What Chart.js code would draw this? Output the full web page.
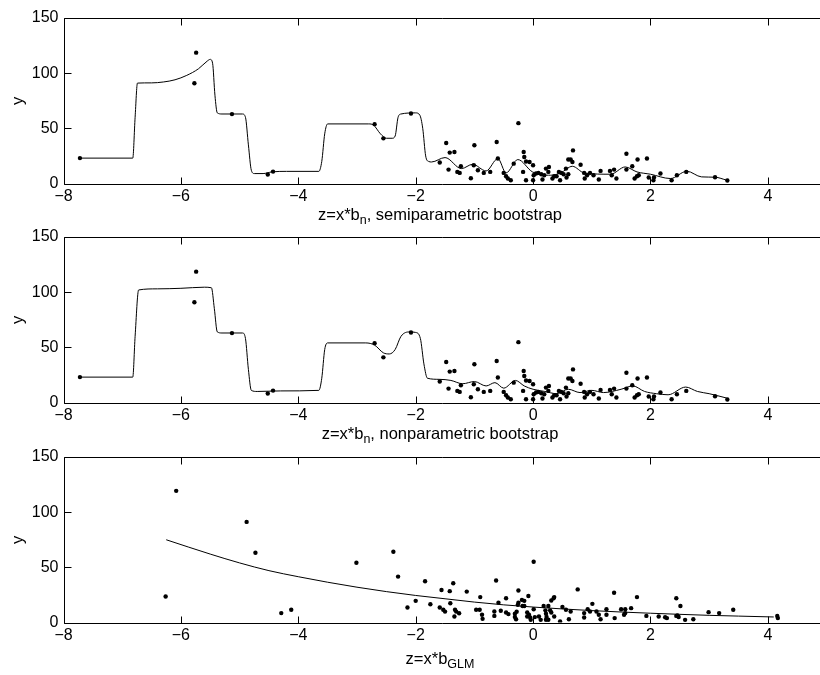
<!DOCTYPE html>
<html>
<head>
<meta charset="utf-8">
<script src="https://cdn.jsdelivr.net/npm/chart.js@4/dist/chart.umd.min.js"></script>
<style>
  body { margin: 0; background: #fff; }
  canvas { position: absolute; left: 0; }
</style>
</head>
<body>
<canvas id="c1" style="top:0px" width="820" height="240"></canvas>
<canvas id="c2" style="top:219px" width="820" height="240"></canvas>
<canvas id="c3" style="top:439px" width="820" height="236"></canvas>
<script>
// tick labels
const xTicks = [-8, -6, -4, -2, 0, 2, 4]
const yTicks = [0, 50, 100, 150]

// observations, z = x*b_n (same points in panels 1 and 2)
const zN = [-7.72, -5.74, -5.77, -5.13, -4.52, -4.43, -2.70, -2.55, -2.08,
  -1.59, -1.48, -1.42, -1.34, -1.44, -1.29, -1.23, -1.25, -1.06, -1.00, -1.01, -0.94, -0.84, -0.73,
  -0.62, -0.60, -0.50, -0.46, -0.43, -0.38, -0.33, -0.25, -0.16, -0.15, -0.12, -0.17, -0.12, -0.06,
  0.00, 0.01, 0.00, 0.05, 0.09, 0.14, 0.16, 0.19, 0.22, 0.26, 0.27, 0.33, 0.36, 0.40, 0.44, 0.48,
  0.46, 0.52, 0.56, 0.57, 0.60, 0.64, 0.68, 0.67, 0.60, 0.81, 0.87, 0.88, 0.92, 0.97, 1.03, 1.12,
  1.15, 1.31, 1.34, 1.38, 1.42, 1.59, 1.59, 1.69, 1.73, 1.77, 1.80, 1.78, 1.94, 1.97, 2.05, 2.06,
  2.17, 2.36, 2.45, 2.61, 3.10, 3.31]
const yN = [23, 118.6, 90.9, 62.9, 8.1, 10.8, 53.8, 40.9, 63.5,
  19, 36.7, 28, 28.5, 12.6, 10.5, 15.6, 9.6, 4.8, 34.6, 16.5, 12, 9.6, 10.5,
  37.6, 22.6, 9.6, 6.6, 4.5, 3, 18, 54.7, 28.5, 24, 20, 10.5, 3, 19.5,
  16.5, 7.5, 3, 9, 9.6, 8.4, 3.6, 7.5, 13.5, 10.5, 15, 4.5, 6.6, 6.6, 10.5, 9.6,
  3, 8.4, 13.5, 5.4, 21.7, 21.7, 30, 19.5, 8.4, 17, 9.6, 4.5, 7.5, 9.6, 7.5, 3.6,
  11.4, 11.4, 7.5, 12.6, 4.5, 27, 12.6, 15.6, 4.5, 6.6, 7.5, 21.7, 22.6, 5.4, 3, 5.4,
  9, 3, 7.5, 10.5, 5.7, 2.7]

// semiparametric bootstrap fit
const zSemi = [-7.72, -6.82, -6.78, -6.74, -6.5, -6.3, -6.1, -5.9, -5.7, -5.55, -5.5, -5.46, -5.42, -5.38,
  -5.3, -4.95, -4.9, -4.85, -4.8, -4.75, -4.6, -4.45, -4.2, -3.65, -3.6, -3.55, -3.5, -2.8, -2.72, -2.6,
  -2.5, -2.4, -2.35, -2.3, -2.25, -2.0, -1.93, -1.88, -1.83, -1.78, -1.73, -1.5, -1.22, -1.03, -0.8,
  -0.6, -0.46, -0.26, -0.01, 0.3, 0.47, 0.67, 0.87, 1.32, 1.57, 1.77, 2.0, 2.34, 2.62, 2.87, 3.10, 3.30]
const ySemi = [23, 23, 60, 91, 91.2, 92, 94, 98, 104, 111, 112.5, 109, 80, 64,
  63, 63, 60, 35, 12, 9, 9, 10.5, 11, 11, 20, 45, 54, 54, 53, 45,
  41, 41, 43, 60, 63, 64, 62, 50, 25, 20, 19.5, 23.5, 13.5, 17.4, 11.4,
  22.6, 9.6, 21.7, 10.5, 7.5, 9.6, 15.6, 9.6, 8.4, 15, 10.5, 8.4, 4.5, 11.1, 6, 5.7, 3]

// nonparametric bootstrap fit
const zNonp = [-7.72, -6.82, -6.78, -6.72, -6.4, -6.0, -5.6, -5.48, -5.43, -5.38, -5.3, -4.95, -4.9, -4.85,
  -4.8, -4.7, -4.3, -3.65, -3.6, -3.55, -3.5, -2.85, -2.7, -2.55, -2.45, -2.35, -2.25, -2.1, -2.0, -1.92,
  -1.86, -1.8, -1.6, -1.4, -1.2, -1.0, -0.8, -0.65, -0.5, -0.3, -0.15, 0, 0.2, 0.4, 0.6, 0.8, 1.0,
  1.2, 1.5, 1.7, 1.9, 2.1, 2.3, 2.6, 2.8, 3.0, 3.3]
const yNonp = [23, 23, 60, 102, 103, 103.5, 104.5, 104, 85, 64, 63, 63, 58, 30,
  11, 10, 10.5, 11, 22, 48, 54, 54, 52, 45, 44, 48, 60, 64, 63.5, 58,
  35, 22, 21, 20, 17, 19, 15, 18, 13, 20, 15, 12, 10, 8, 12, 9, 11,
  9, 12, 15, 10, 8, 7, 14, 10, 8, 4]

// observations, z = x*b_GLM
const zG = [-6.08, -6.26, -4.88, -4.73, -4.29, -4.12, -3.01, -2.38, -2.30, -2.14, -2.0, -1.84, -1.75,
  -1.56, -1.59, -1.53, -1.50, -1.42, -1.36, -1.41, -1.33, -1.34, -1.31, -1.26, -1.13, -0.97, -0.91,
  -0.90, -0.87, -0.86, -0.63, -0.59, -0.66, -0.66, -0.55, -0.46, -0.46, -0.42, -0.31, -0.31, -0.29,
  -0.26, -0.25, -0.25, -0.28, -0.19, -0.15, -0.08, -0.18, -0.15, -0.1, -0.07, -0.1, -0.05, -0.04,
  0.01, 0.01, 0.03, 0.10, 0.13, 0.18, 0.26, 0.21, 0.22, 0.23, 0.22, 0.26, 0.29, 0.31, 0.31, 0.35,
  0.36, 0.36, 0.46, 0.50, 0.56, 0.61, 0.64, 0.76, 0.87, 0.87, 0.93, 0.97, 1.01, 1.08, 1.12, 1.15,
  1.25, 1.25, 1.38, 1.39, 1.50, 1.57, 1.55, 1.57, 1.67, 1.77, 1.93, 2.14, 2.25, 2.28, 2.44, 2.51,
  2.44, 2.48, 2.46, 2.59, 2.73, 2.99, 3.17, 3.41, 4.16, 4.17]
const yG = [119.3, 23.5, 91.2, 63.2, 8.5, 11.5, 54.2, 64.1, 41.6, 13.6, 19.6, 37.4, 16.6,
  29.5, 13.6, 11.5, 9.9, 28.4, 35.6, 17.5, 11.5, 5.4, 9.9, 8.4, 28, 11.5, 11.5,
  23, 7, 3.3, 38, 18, 10, 6, 10.6, 22, 9, 7.6, 7.9, 5, 3,
  16, 18, 29, 9.7, 20.5, 19.6, 24, 15, 15, 9, 7, 5.5, 4.5, 2.5,
  55.1, 12, 4.9, 5.4, 2.4, 15, 15, 11, 8, 5, 2.5, 2.5, 11, 9, 20, 22,
  23, 5.4, 1, 14, 11.5, 3, 10, 30, 8.5, 4.5, 12, 10, 16.9, 10, 7, 3,
  12, 7, 27, 4, 12, 12, 7, 8.5, 13, 23, 6, 5.4, 4.8, 4, 22, 15,
  6, 5, 6.5, 2.4, 3, 9.4, 8.5, 11.5, 6, 4]

// GLM fit
const zFit = [-6.25, -5.5, -5.0, -4.5, -4.0, -3.5, -3.0, -2.5, -2.0, -1.5, -1.0, -0.5, 0, 0.5,
  1.0, 1.5, 2.0, 2.5, 3.0, 3.5, 4.1]
const yFit = [75, 62, 54, 47, 41.5, 36.5, 32, 28, 24.5, 21.5, 18.5, 16, 14, 12.3,
  10.8, 9.5, 8.4, 7.4, 6.5, 5.8, 5]

const FONT = '"Liberation Sans", Arial, Helvetica, sans-serif'

function pts(xs, ys) {
  return xs.map((v, i) => ({x: v, y: ys[i]}))
}

// draws the box, inward ticks and the axis labels
const frame = {
  id: 'frame',
  afterDraw(chart, args, opts) {
    const ctx = chart.ctx
    const a = chart.chartArea
    const xs = chart.scales.x, ys = chart.scales.y
    const L = Math.round(a.left) + 0.5, T = Math.round(a.top) + 0.5, B = Math.round(a.bottom) + 0.5
    ctx.save()
    ctx.strokeStyle = '#000'
    ctx.lineWidth = 1
    ctx.beginPath()
    ctx.moveTo(820, T); ctx.lineTo(L, T); ctx.lineTo(L, B); ctx.lineTo(820, B)
    xTicks.forEach(v => {
      const p = Math.round(xs.getPixelForValue(v)) + 0.5
      ctx.moveTo(p, B); ctx.lineTo(p, B - 7)
      ctx.moveTo(p, T); ctx.lineTo(p, T + 7)
    })
    yTicks.forEach(v => {
      const p = Math.round(ys.getPixelForValue(v)) + 0.5
      ctx.moveTo(L, p); ctx.lineTo(L + 7, p)
    })
    ctx.stroke()

    // x label with subscript
    ctx.fillStyle = '#000'
    ctx.textBaseline = 'alphabetic'
    ctx.textAlign = 'left'
    const big = '16.5px ' + FONT, small = '12.5px ' + FONT
    ctx.font = big
    const w1 = ctx.measureText(opts.main).width
    const w3 = ctx.measureText(opts.rest).width
    ctx.font = small
    const w2 = ctx.measureText(opts.sub).width
    let x0 = 440 - (w1 + w2 + w3) / 2
    const base = a.bottom + opts.gap
    ctx.font = big
    ctx.fillText(opts.main, x0, base)
    ctx.font = small
    ctx.fillText(opts.sub, x0 + w1, base + 4)
    ctx.font = big
    ctx.fillText(opts.rest, x0 + w1 + w2, base)

    // y label
    ctx.translate(18, (a.top + a.bottom) / 2)
    ctx.rotate(-Math.PI / 2)
    ctx.textAlign = 'center'
    ctx.textBaseline = 'middle'
    ctx.fillText('y', 0, 0)
    ctx.restore()
  }
}

function makeChart(id, scatterPts, lineX, lineY, label) {
  const cv = document.getElementById(id)
  const H = cv.height
  return new Chart(cv, {
    type: 'scatter',
    data: {
      datasets: [{
        type: 'line',
        data: pts(lineX, lineY),
        borderColor: '#000',
        borderWidth: 1,
        pointRadius: 0,
        fill: false,
        cubicInterpolationMode: 'monotone',
        order: 2
      }, {
        data: scatterPts,
        backgroundColor: '#000',
        borderWidth: 0,
        pointRadius: 2.2,
        order: 1
      }]
    },
    options: {
      responsive: false,
      devicePixelRatio: 1,
      animation: false,
      events: [],
      layout: {padding: {top: 18, right: 0, left: 0, bottom: 0}},
      plugins: {legend: {display: false}, tooltip: {enabled: false}, frame: label},
      scales: {
        x: {
          type: 'linear', min: -8, max: 4.82,
          grid: {display: false, drawTicks: false}, border: {display: false},
          afterBuildTicks: s => { s.ticks = xTicks.map(v => ({value: v})) },
          afterFit: s => { s.height = H - 183.5 },
          ticks: {color: '#000', font: {family: FONT, size: 16}, padding: 3, maxRotation: 0,
            callback: v => String(v).replace('-', '\u2212')}
        },
        y: {
          type: 'linear', min: 0, max: 150,
          grid: {display: false, drawTicks: false}, border: {display: false},
          afterBuildTicks: s => { s.ticks = yTicks.map(v => ({value: v})) },
          afterFit: s => { s.width = 63.5 },
          ticks: {color: '#000', font: {family: FONT, size: 16}, padding: 5}
        }
      }
    },
    plugins: [frame]
  })
}

makeChart('c1', pts(zN, yN), zSemi, ySemi,
  {main: 'z=x*b', sub: 'n', rest: ', semiparametric bootstrap', gap: 36})
makeChart('c2', pts(zN, yN), zNonp, yNonp,
  {main: 'z=x*b', sub: 'n', rest: ', nonparametric bootstrap', gap: 36})
makeChart('c3', pts(zG, yG), zFit, yFit,
  {main: 'z=x*b', sub: 'GLM', rest: '', gap: 41})
</script>
</body>
</html>
